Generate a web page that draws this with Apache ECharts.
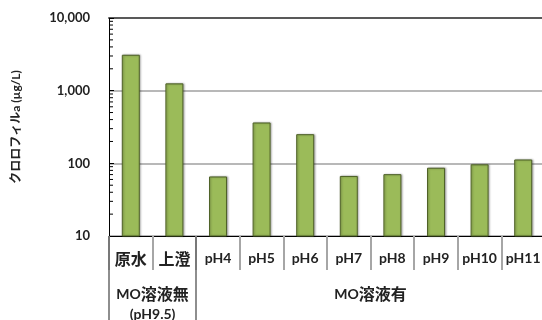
<!DOCTYPE html>
<html>
<head>
<meta charset="utf-8">
<script src="https://cdn.jsdelivr.net/npm/echarts@6/dist/echarts.min.js"></script>
<style>
html,body{margin:0;padding:0;background:#fff;}
#chart{width:542px;height:320px;}
</style>
</head>
<body>
<div id="chart"></div>
<script>
// ---- data ----
var categories = ['原水', '上澄', 'pH4', 'pH5', 'pH6', 'pH7', 'pH8', 'pH9', 'pH10', 'pH11'];
var chlorophyll = [3120, 1260, 66, 365, 252, 67, 71, 87, 97, 113];
var groupLabels = ['MO溶液無\n(pH9.5)', 'MO溶液有'];
var groupCenters = [1, 6];          // positions on a 0..10 category-width scale
var groupBoundaries = [0, 2];
var yTickValues = [10, 100, 1000, 10000];
var yMinorTicks = [20, 30, 40, 50, 60, 70, 80, 90,
                   200, 300, 400, 500, 600, 700, 800, 900,
                   2000, 3000, 4000, 5000, 6000, 7000, 8000, 9000];
var yTitle = 'クロロフィルa (µg/L)';

var FONT = "Lato, 'Noto Sans CJK JP', sans-serif";
function cjk(s) { return s.replace(/([\u3000-\u9fff\uff00-\uffef]+)/g, '{c|$1}'); }

var chart = echarts.init(document.getElementById('chart'));

chart.setOption({
  animation: false,
  backgroundColor: '#fff',
  textStyle: { fontFamily: FONT },
  grid: { left: 109, top: 18, width: 436, height: 218, outerBoundsMode: 'none', containLabel: false },
  xAxis: [
    {
      type: 'category',
      data: categories,
      position: 'bottom',
      boundaryGap: true,
      axisLine: { show: true, lineStyle: { color: '#000', width: 1 } },
      axisTick: { show: true, interval: 0, length: 34, lineStyle: { color: '#a6a6a6', width: 2 } },
      axisLabel: {
        interval: 0, margin: 15, fontSize: 14, fontWeight: 'bold', color: '#222', fontFamily: FONT,
        formatter: function (v) { return cjk(v); },
        rich: { c: { fontSize: 16, fontWeight: 'bold', color: '#222', fontFamily: "'Noto Sans CJK JP', sans-serif" } }
      },
      splitLine: { show: false }
    },
    {
      type: 'value',
      min: 0, max: 10, interval: 1,
      position: 'bottom',
      axisLine: { show: false },
      splitLine: { show: false },
      axisTick: { show: true, customValues: groupBoundaries, length: 84, lineStyle: { color: '#6a6a6a', width: 1.5 } },
      axisLabel: {
        show: true, customValues: groupCenters, margin: 48, lineHeight: 20,
        fontSize: 14, fontWeight: 'bold', color: '#222', fontFamily: FONT,
        formatter: function (v) { var i = groupCenters.indexOf(v); return i >= 0 ? cjk(groupLabels[i]) : ''; },
        rich: { c: { fontSize: 16, lineHeight: 20, fontWeight: 'bold', color: '#222', fontFamily: "'Noto Sans CJK JP', sans-serif" } }
      }
    },
    {
      type: 'category',
      data: categories,
      position: 'top',
      axisLine: { show: true, lineStyle: { color: '#595959', width: 2 } },
      axisTick: { show: false },
      axisLabel: { show: false },
      splitLine: { show: false }
    }
  ],
  yAxis: {
    type: 'log',
    logBase: 10,
    min: yTickValues[0],
    max: yTickValues[yTickValues.length - 1],
    axisLine: { show: true, lineStyle: { color: '#000', width: 1 } },
    axisTick: { show: true, inside: true, length: 5, lineStyle: { color: '#000' } },
    axisLabel: {
      margin: 19, fontSize: 13, fontWeight: 'bold', color: '#222', fontFamily: FONT,
      formatter: function (v) { return Number(v).toLocaleString('en-US'); }
    },
    splitLine: { show: true, lineStyle: { color: '#a0a0a0', width: 1.5 } },
    name: yTitle,
    nameLocation: 'middle',
    nameRotate: 90,
    nameGap: 87,
    nameTextStyle: { fontSize: 12, fontWeight: 'bold', color: '#222', fontFamily: FONT }
  },
  series: [
    {
      type: 'bar',
      data: chlorophyll,
      xAxisIndex: 0,
      yAxisIndex: 0,
      barWidth: 18,
      itemStyle: {
        color: '#9BBB59',
        borderColor: '#4F6228',
        borderWidth: 1,
        shadowColor: 'rgba(0,0,0,0.3)',
        shadowBlur: 2,
        shadowOffsetX: 1
      }
    },
    {
      type: 'custom',
      xAxisIndex: 0,
      yAxisIndex: 0,
      silent: true,
      data: yMinorTicks.map(function (v) { return [0, v]; }),
      encode: { x: 0, y: 1 },
      renderItem: function (params, api) {
        var y = api.coord([0, api.value(1)])[1];
        var x = params.coordSys.x;
        return { type: 'line', shape: { x1: x, y1: y, x2: x + 4, y2: y }, style: { stroke: '#000', lineWidth: 1 } };
      }
    }
  ]
});
</script>
</body>
</html>
